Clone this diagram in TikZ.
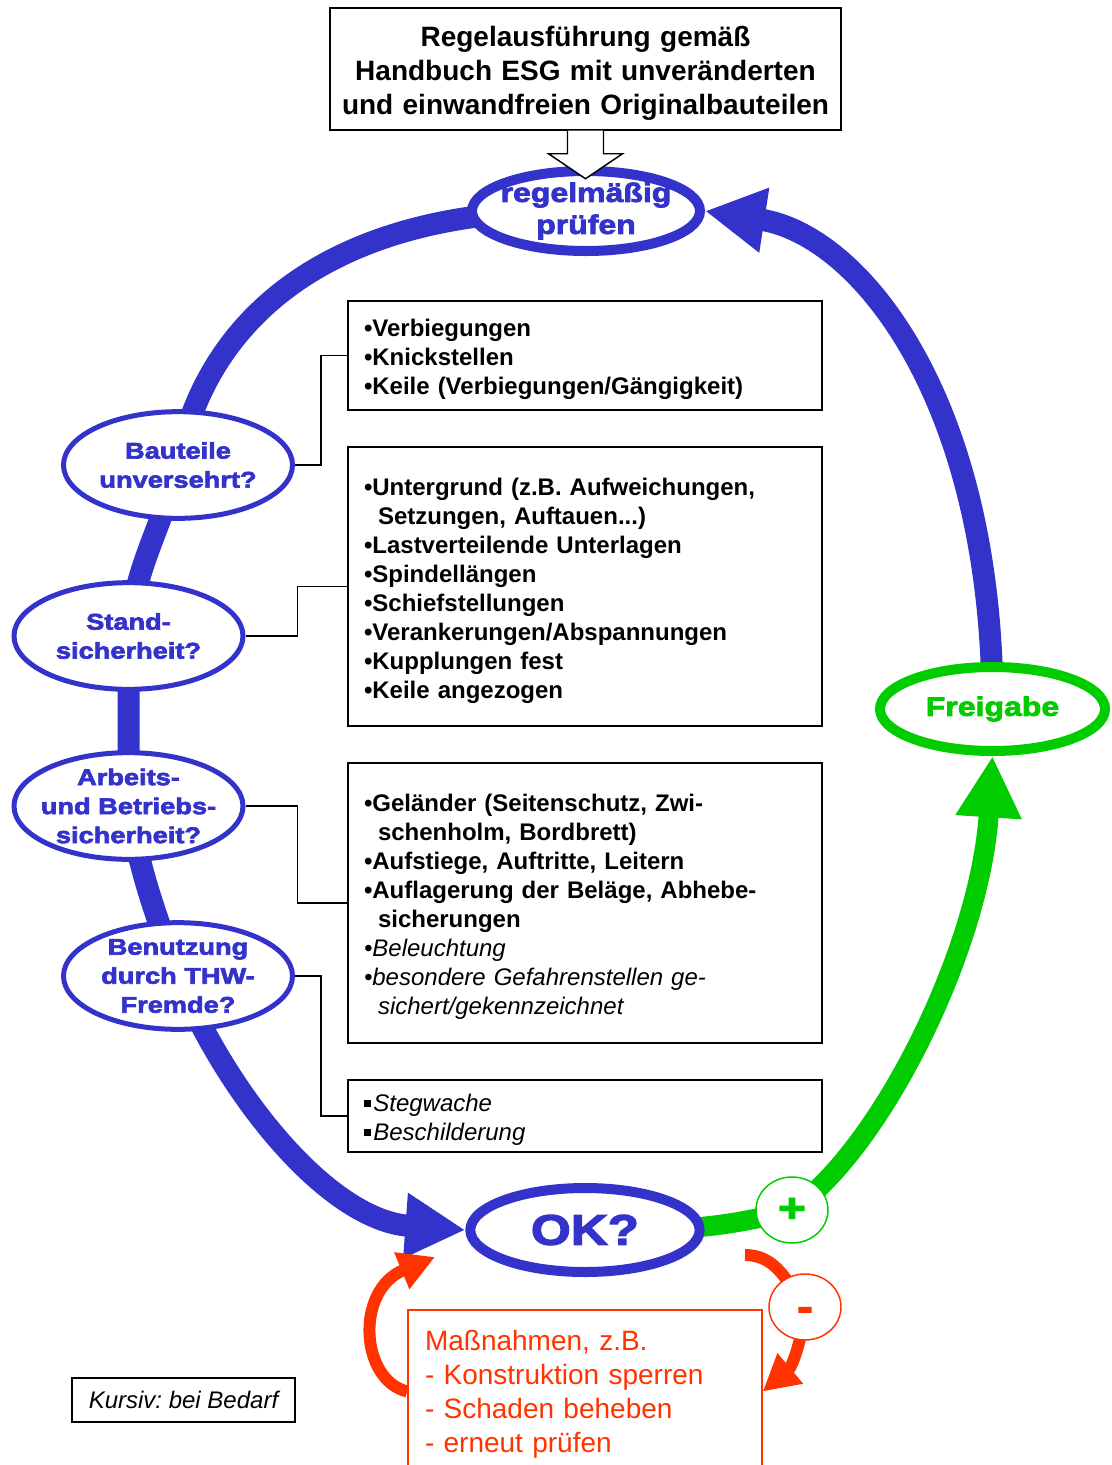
\documentclass[tikz,border=0pt]{standalone}
\usepackage{fontspec}
\setmainfont{Liberation Sans}
\newfontfamily\heavyfont[FakeStretch=1.2,FakeBold=3]{Liberation Sans}
\usetikzlibrary{shapes.geometric,arrows.meta,backgrounds}

\definecolor{ringblue}{HTML}{3333CC}
\definecolor{okgreen}{HTML}{00CC00}
\definecolor{fixred}{HTML}{FF3300}

\newcommand\listindent{\hspace*{10.5pt}}
\newcommand\sqbullet{\raisebox{3.5pt}{\rule{5pt}{5pt}}\hspace{2pt}}

\tikzset{
  ring/.style={ellipse, draw=ringblue, fill=white, inner sep=-8pt, align=center, text=ringblue},
  bigring/.style={ring, line width=7.5pt, minimum width=172pt, minimum height=63pt},
  qring/.style={ring, line width=3.75pt, minimum width=171.75pt, minimum height=80pt,
    font=\heavyfont\bfseries\fontsize{17}{21.75}\selectfont},
  listbox/.style={draw, line width=1.1pt, minimum width=355.5pt, text width=331.5pt,
    inner xsep=12pt, align=left, text height=19pt, font=\bfseries\fontsize{18}{21.75}\selectfont},
  sign/.style={ellipse, fill=white, line width=1.1pt, minimum width=54pt,
    minimum height=49.5pt, inner sep=0pt},
  band/.style={draw=ringblue, line width=16.5pt, -{Triangle[length=45pt,width=46pt]}},
  goband/.style={draw=okgreen, line width=15pt, -{Triangle[length=46pt,width=46.5pt]}},
  fixband/.style={draw=fixred, line width=9pt, -{Triangle[length=27pt,width=28pt]}},
  link/.style={line width=1.1pt}
}

\begin{document}
\frenchspacing
\begin{tikzpicture}[x=0.75pt,y=0.75pt]
  \useasboundingbox (0,0) rectangle (1112,-1465);

  % start and the check cycle
  \node[draw, line width=1.1pt, minimum width=383.25pt, minimum height=91.5pt, text width=370pt,
    align=center, text height=22pt, font=\bfseries\fontsize{21}{25.5}\selectfont] (rule) at (585.5,-69)
    {Regelausführung gemäß\\Handbuch ESG mit unveränderten\\und einwandfreien Originalbauteilen};
  \node[bigring, minimum width=171pt, minimum height=60pt,
    font=\heavyfont\bfseries\fontsize{20}{24}\selectfont] (check) at (586,-211) {regelmäßig\\prüfen};

  \node[qring] (bau) at (178,-465) {Bauteile\\unversehrt?};
  \node[qring] (stand) at (128.5,-636) {Stand-\\sicherheit?};
  \node[qring] (arb) at (128.5,-806) {Arbeits-\\und Betriebs-\\sicherheit?};
  \node[qring] (ben) at (178,-976) {Benutzung\\durch THW-\\Fremde?};

  \node[bigring, font=\heavyfont\bfseries\fontsize{32}{32}\selectfont] (ok) at (585,-1230) {OK?};
  \node[bigring, draw=okgreen, text=okgreen, minimum width=168.75pt, minimum height=63pt,
    font=\heavyfont\bfseries\fontsize{20}{24}\selectfont] (frei) at (992.5,-709) {Freigabe};
  \node[sign, draw=okgreen, text=okgreen, font=\heavyfont\bfseries\fontsize{30}{30}\selectfont]
    (plus) at (792,-1210) {+};
  \node[sign, draw=fixred, text=fixred, font=\heavyfont\bfseries\fontsize{30}{30}\selectfont]
    (minus) at (805,-1307) {\smash{\raisebox{-10pt}{-}}};

  % lists
  \node[listbox, minimum height=81.75pt] (list1) at (585,-355.5)
    {•Verbiegungen\\•Knickstellen\\•Keile (Verbiegungen/Gängigkeit)};
  \node[listbox, minimum height=209.25pt] (list2) at (585,-586.5)
    {•Untergrund (z.B. Aufweichungen,\\\listindent Setzungen, Auftauen...)\\•Lastverteilende Unterlagen\\•Spindellängen\\•Schiefstellungen\\•Verankerungen/Abspannungen\\•Kupplungen fest\\•Keile angezogen};
  \node[listbox, minimum height=210pt] (list3) at (585,-903)
    {•Geländer (Seitenschutz, Zwi-\\\listindent schenholm, Bordbrett)\\•Aufstiege, Auftritte, Leitern\\•Auflagerung der Beläge, Abhebe-\\\listindent sicherungen\\{\normalfont\itshape •Beleuchtung}\\{\normalfont\itshape •besondere Gefahrenstellen ge-}\\{\normalfont\itshape\listindent sichert/gekennzeichnet}};
  \node[listbox, minimum height=54pt, font=\itshape\fontsize{18}{21.75}\selectfont] (list4) at (585,-1116)
    {\sqbullet Stegwache\\\sqbullet Beschilderung};

  \begin{scope}
    \clip (0,0) rectangle (1112,-1465);
    \node[draw=fixred, line width=1.1pt, fill=white, text=fixred, minimum width=265.5pt,
      minimum height=122.25pt, text width=240pt, inner xsep=12.75pt, align=left, text height=19.5pt,
      font=\fontsize{21}{25.5}\selectfont] (act) at (585,-1391.5)
      {Maßnahmen, z.B.\\- Konstruktion sperren\\- Schaden beheben\\- erneut prüfen};
  \end{scope}

  \node[draw, line width=1.1pt, minimum width=167.25pt, minimum height=33pt,
    font=\itshape\fontsize{18}{21.75}\selectfont] (note) at (183.5,-1400) {Kursiv: bei Bedarf};

  \coordinate (redout) at (745,-1255);
  \coordinate (redin) at (435,-1257);

  % hollow arrow into the check
  \draw[line width=1.1pt, fill=white] (rule.south) ++(-18,0) -- ++(0,-23) -- ++(-19,0)
    -- ++(37,-25) -- ++(37,25) -- ++(-19,0) -- ++(0,23);

  \draw[link] (bau.east) -- ++(26,0) |- (list1.west);
  \draw[link] (stand.east) -- ++(52,0) |- (list2.west);
  \draw[link] (arb.east) -- ++(52,0) |- (list3.west);
  \draw[link] (ben.east) -- ++(26,0) |- (list4.west);

  \begin{scope}[on background layer]
    \draw[band] (check.center) .. controls (330,-205) and (205,-320) .. (bau.center)
      to[out=-105,in=85] (stand.center) to[out=-90,in=90] (arb.center)
      to[out=-80,in=110] (ben.center) .. controls (230,-1100) and (330,-1220) .. (ok.west);
    \draw[band] (frei.center) .. controls (993,-400) and (860,-235) .. (check.east);
    \draw[goband] (ok.center) to[out=0,in=195] (plus.center)
      .. controls (880,-1150) and (980,-950) .. (frei.south);
    \draw[fixband] (redout) to[out=0,in=125] (minus.center) to[out=-95,in=40] (act.east);
    \draw[fixband] (act.west) .. controls (360,-1380) and (355,-1290) .. (redin);
  \end{scope}
\end{tikzpicture}
\end{document}
